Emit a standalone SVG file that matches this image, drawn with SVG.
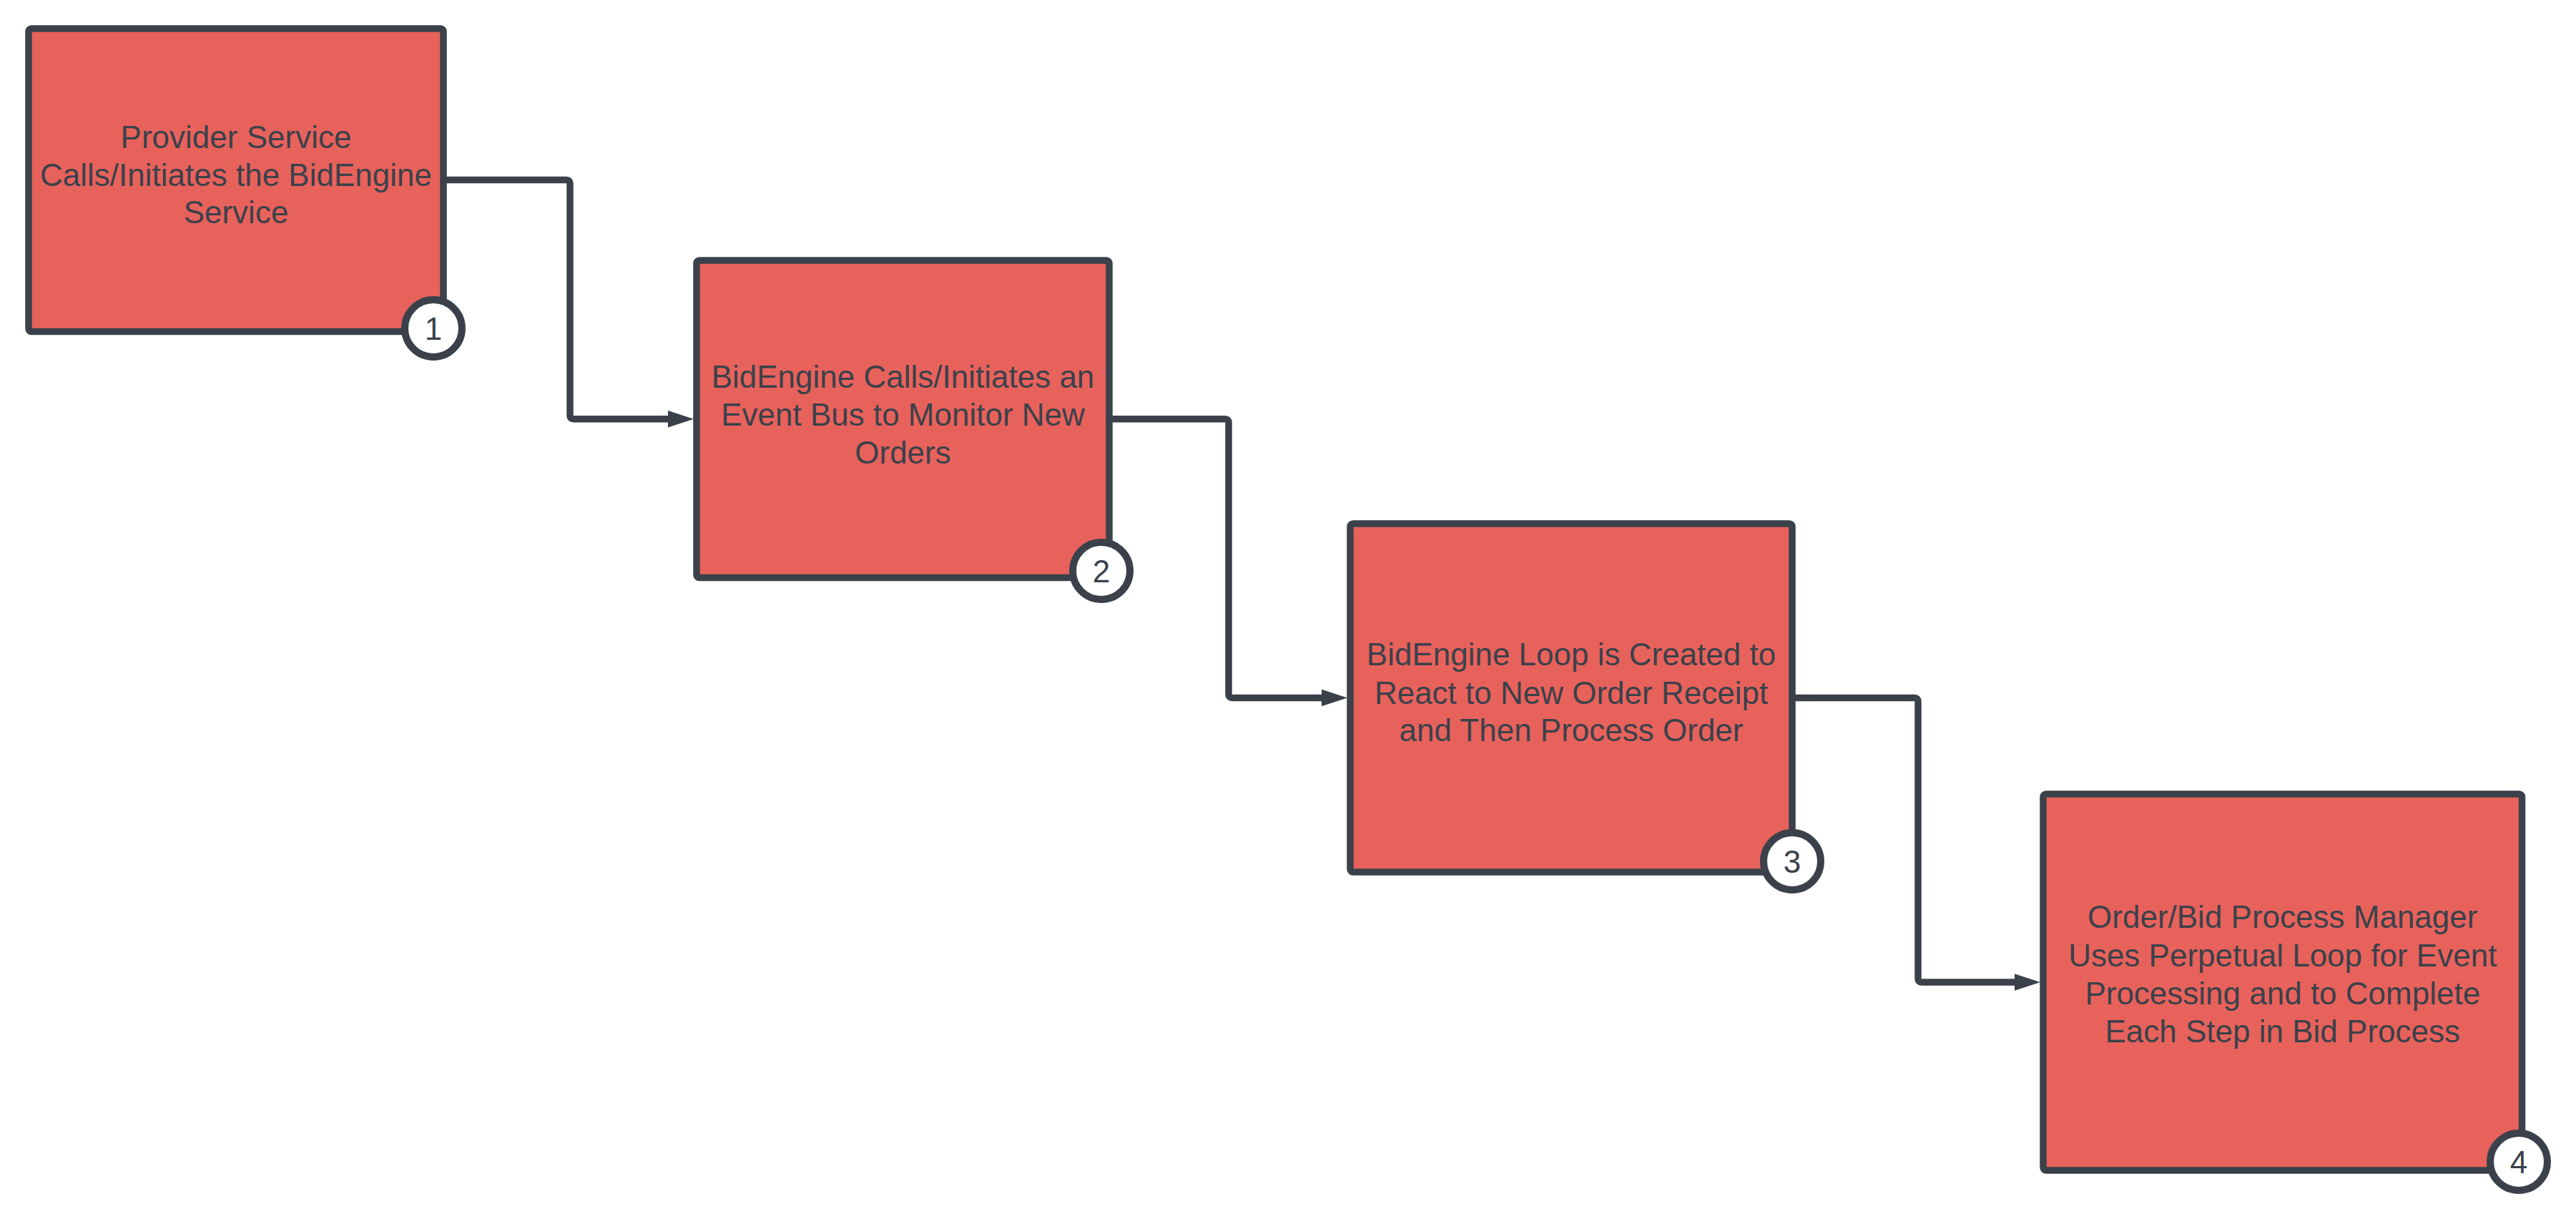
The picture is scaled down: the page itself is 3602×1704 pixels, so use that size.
<svg xmlns="http://www.w3.org/2000/svg" width="3602" height="1704" viewBox="0 0 3602 1704">
<style>
.box{fill:#e8625c;stroke:#3a414a;stroke-width:9.5;stroke-linejoin:round}
.badge{fill:#ffffff;stroke:#3a414a;stroke-width:10}
.lbl{font-family:"Liberation Sans",Arial,sans-serif;font-size:44px;fill:#3a414a;text-anchor:middle}
.num{font-family:"Liberation Sans",Arial,sans-serif;font-size:44px;fill:#3a414a;text-anchor:middle}
.conn{fill:none;stroke:#3a414a;stroke-width:9.5;stroke-linejoin:round;marker-end:url(#arrow)}
</style>
<defs>
<marker id="arrow" markerUnits="userSpaceOnUse" markerWidth="36" markerHeight="24" viewBox="0 0 35 23" refX="0" refY="11.5" orient="auto">
<path d="M0,0 L35,11.5 L0,23 Z" fill="#3a414a"/>
</marker>
</defs>
<rect width="3602" height="1704" fill="#ffffff"/>
<g id="connectors">
<path class="conn" d="M619,251.5 H792 Q797,251.5 797,256.5 V580.7 Q797,585.7 802,585.7 H934"/>
<path class="conn" d="M1551,585.7 H1713 Q1718,585.7 1718,590.7 V970.5 Q1718,975.5 1723,975.5 H1848"/>
<path class="conn" d="M2506,975.5 H2677 Q2682,975.5 2682,980.5 V1368 Q2682,1373 2687,1373 H2817"/>
</g>
<g id="node1">
<rect class="box" x="40" y="40" width="580" height="423.5" rx="4"/>
<text class="lbl" x="330" y="207">Provider Service</text>
<text class="lbl" x="330" y="259.5">Calls/Initiates the BidEngine</text>
<text class="lbl" x="330" y="312">Service</text>
<circle class="badge" cx="606" cy="459" r="40"/>
<text class="num" x="606" y="475">1</text>
</g>
<g id="node2">
<rect class="box" x="974" y="364" width="577" height="443.5" rx="4"/>
<text class="lbl" x="1262.5" y="542">BidEngine Calls/Initiates an</text>
<text class="lbl" x="1262.5" y="595">Event Bus to Monitor New</text>
<text class="lbl" x="1262.5" y="647.5">Orders</text>
<circle class="badge" cx="1540" cy="798" r="40"/>
<text class="num" x="1540" y="814">2</text>
</g>
<g id="node3">
<rect class="box" x="1888" y="732" width="618" height="487" rx="4"/>
<text class="lbl" x="2197" y="930">BidEngine Loop is Created to</text>
<text class="lbl" x="2197" y="983.5">React to New Order Receipt</text>
<text class="lbl" x="2197" y="1036">and Then Process Order</text>
<circle class="badge" cx="2506" cy="1204" r="40"/>
<text class="num" x="2506" y="1220">3</text>
</g>
<g id="node4">
<rect class="box" x="2857" y="1110" width="669.5" height="526" rx="4"/>
<text class="lbl" x="3191.75" y="1297">Order/Bid Process Manager</text>
<text class="lbl" x="3191.75" y="1350.5">Uses Perpetual Loop for Event</text>
<text class="lbl" x="3191.75" y="1404">Processing and to Complete</text>
<text class="lbl" x="3191.75" y="1457">Each Step in Bid Process</text>
<circle class="badge" cx="3522" cy="1624" r="40"/>
<text class="num" x="3522" y="1640">4</text>
</g>
</svg>
